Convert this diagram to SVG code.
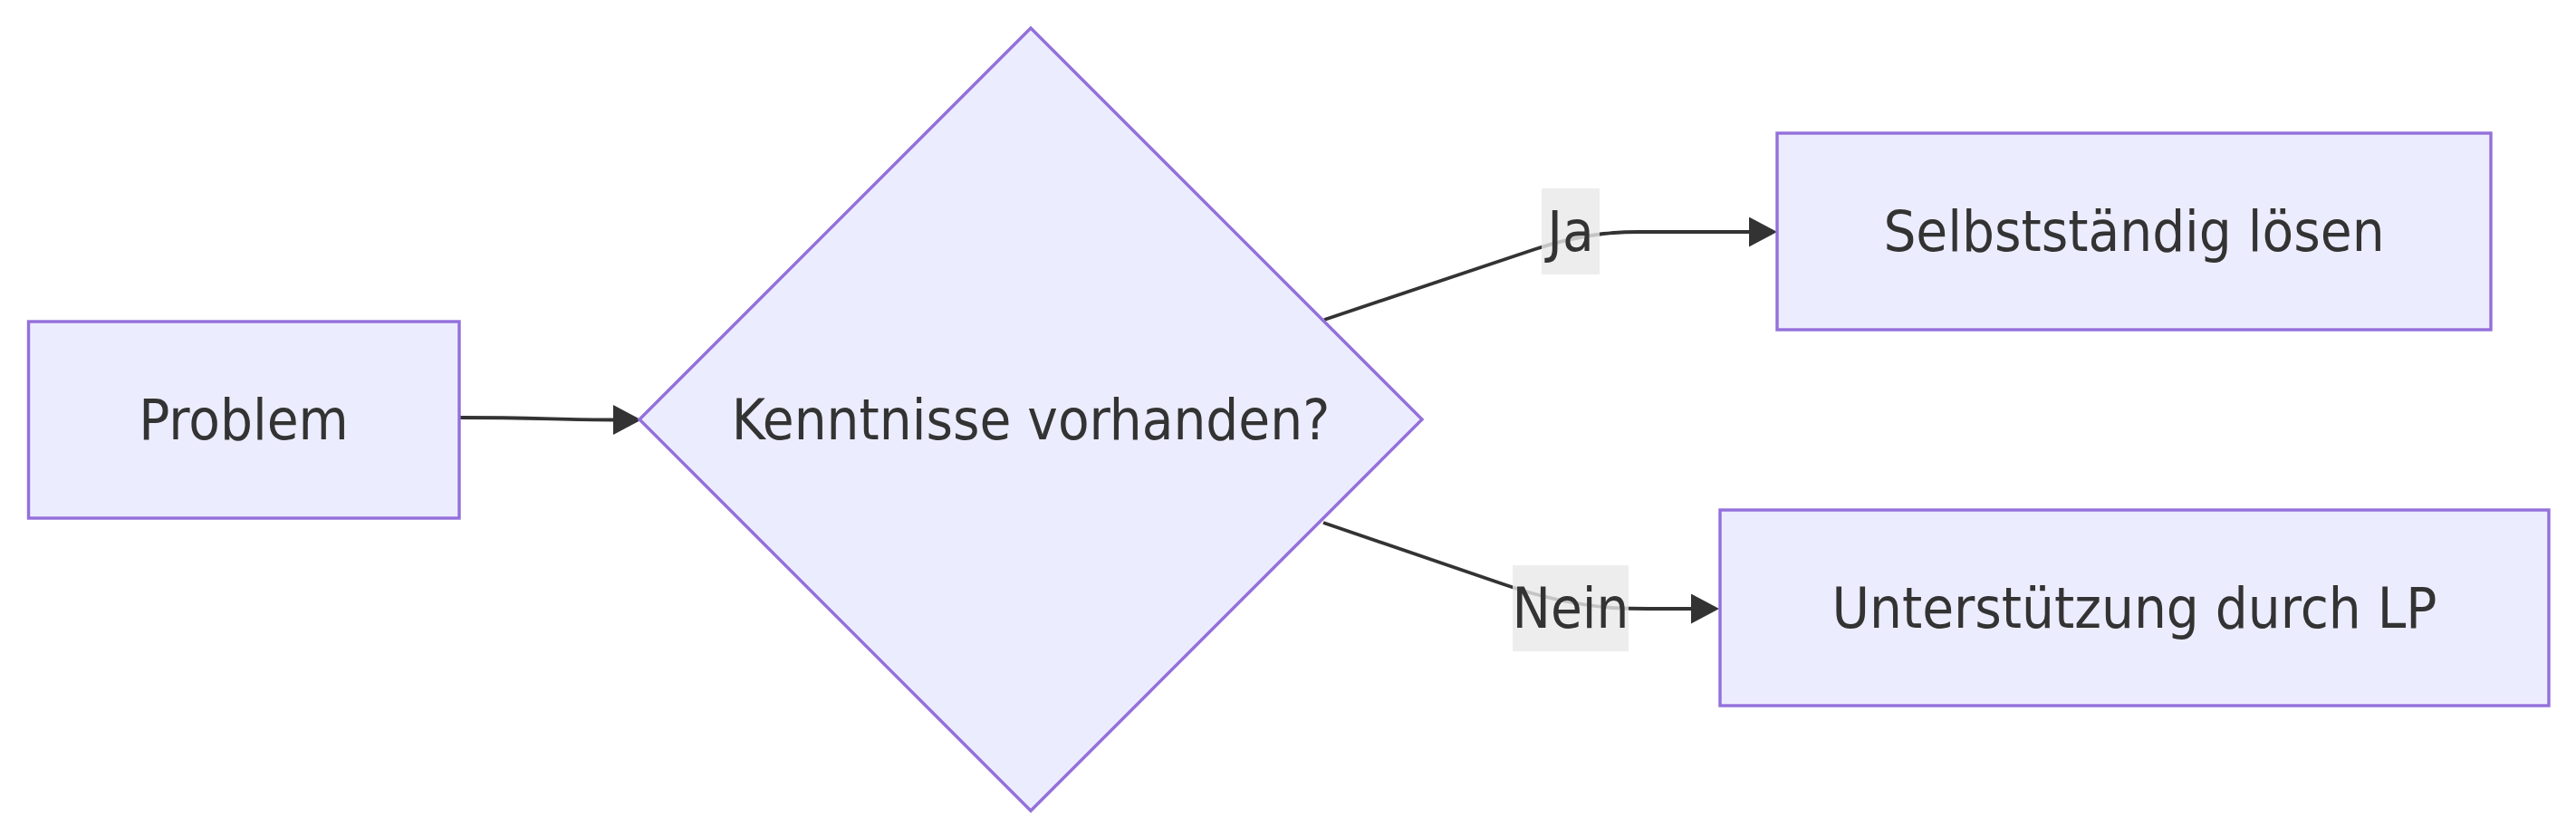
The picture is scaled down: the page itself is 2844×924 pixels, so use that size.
<svg xmlns="http://www.w3.org/2000/svg" width="2844" height="924" viewBox="0 0 2844 924">
  <style>
    .node { fill: #ECECFF; stroke: #9370DB; stroke-width: 3.4; }
    .label { font-family: "DejaVu Sans Condensed", "Liberation Sans", Arial, sans-serif; font-size: 63px; fill: #333333; text-anchor: middle; }
    .edge { fill: none; stroke: #333333; stroke-width: 3.8; }
    .elbg { fill: #E8E8E8; fill-opacity: 0.8; }
  </style>
  <defs>
    <marker id="arrow" markerUnits="userSpaceOnUse" viewBox="0 0 31 33" refX="0" refY="16.5" markerWidth="31" markerHeight="33" orient="auto">
      <path d="M0,0 L31,16.5 L0,33 z" fill="#333333"/>
    </marker>
  </defs>
  <rect width="2844" height="924" fill="#FFFFFF"/>
  <g id="connectors">
    <path class="edge" d="M507,461 C590,461 620,463.5 677,463.5" marker-end="url(#arrow)"/>
    <path class="edge" d="M1462,353 L1695,275 Q1730,263 1770,258 Q1790,256 1810,256 L1931,256" marker-end="url(#arrow)"/>
    <path class="edge" d="M1461,577 L1660,645 Q1720,666 1780,671 Q1800,672 1820,672 L1867,672" marker-end="url(#arrow)"/>
  </g>
  <g id="label-ja">
    <rect class="elbg" x="1702" y="208" width="64" height="95"/>
    <text class="label" x="1734" y="277">Ja</text>
  </g>
  <g id="label-nein">
    <rect class="elbg" x="1670" y="624" width="128" height="95"/>
    <text class="label" x="1734" y="693">Nein</text>
  </g>
  <g id="node-problem">
    <rect class="node" x="31.5" y="355" width="475.5" height="217"/>
    <text class="label" x="269" y="485">Problem</text>
  </g>
  <g id="node-decision">
    <polygon class="node" points="1138,31 1570,463 1138,895 706,463"/>
    <text class="label" x="1138" y="485">Kenntnisse vorhanden?</text>
  </g>
  <g id="node-selbst">
    <rect class="node" x="1962" y="147" width="788" height="217"/>
    <text class="label" x="2356" y="277">Selbstständig lösen</text>
  </g>
  <g id="node-lp">
    <rect class="node" x="1899" y="563" width="915" height="216"/>
    <text class="label" x="2356.5" y="693">Unterstützung durch LP</text>
  </g>
</svg>
